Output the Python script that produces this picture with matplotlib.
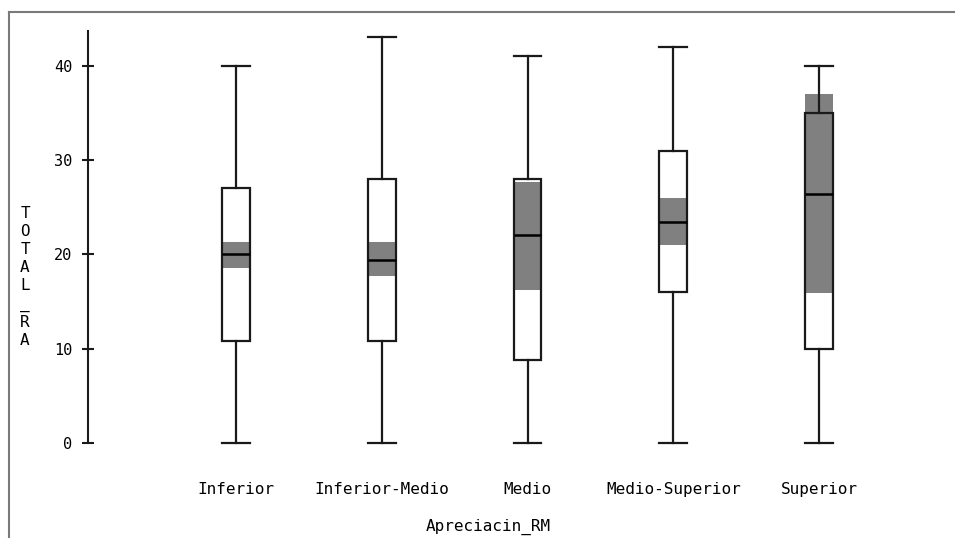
import matplotlib
matplotlib.use("Agg")
import matplotlib.pyplot as plt
from matplotlib.lines import Line2D

# ---- data ----
categories = ['Inferior', 'Inferior-Medio', 'Medio', 'Medio-Superior', 'Superior']
whisker_low = [0, 0, 0, 0, 0]
q1_values = [10.8, 10.8, 8.8, 16.0, 10.0]
medians = [20.0, 19.4, 22.0, 23.4, 26.4]
q3_values = [27.0, 28.0, 28.0, 31.0, 35.0]
whisker_high = [40, 43, 41, 42, 40]
ci_low = [18.6, 17.7, 16.2, 21.0, 15.9]
ci_high = [21.3, 21.3, 27.7, 26.0, 37.0]
y_ticks = [0, 10, 20, 30, 40]
x_title = 'Apreciacin_RM'
y_title = 'TOTAL_RA'

W, H = 955, 538
fig = plt.figure(figsize=(W / 100, H / 100), dpi=100)
fig.patch.set_facecolor('white')

# axes placed in pixel terms
ax_left, ax_right = 88, 955
ax_top, ax_bottom = 31, 443
ax = fig.add_axes([ax_left / W, (H - ax_bottom) / H,
                   (ax_right - ax_left) / W, (ax_bottom - ax_top) / H])
ax.set_facecolor('none')

px_per_unit = (443 - 65.7) / 40.0
ax.set_ylim(0, (ax_bottom - ax_top) / px_per_unit)
spacing = 145.75
x0 = -(236 - ax_left) / spacing
ax.set_xlim(x0, x0 + (ax_right - ax_left) / spacing)

positions = list(range(len(categories)))
width = 0.19
line_c = '#1a1a1a'
lw = 1.6

# confidence band for the median (grey)
ax.bar(positions, [h - l for h, l in zip(ci_high, ci_low)], bottom=ci_low,
       width=width, color='#808080', edgecolor='none', zorder=2)

stats = []
for i, c in enumerate(categories):
    stats.append(dict(label=c, whislo=whisker_low[i], q1=q1_values[i], med=medians[i],
                      q3=q3_values[i], whishi=whisker_high[i], fliers=[]))

art = ax.bxp(stats, positions=positions, widths=width, showfliers=False,
             patch_artist=True, capwidths=width,
             boxprops=dict(facecolor='none', edgecolor=line_c, linewidth=lw),
             whiskerprops=dict(color=line_c, linewidth=lw),
             capprops=dict(color=line_c, linewidth=lw),
             medianprops=dict(color='black', linewidth=lw + 0.2),
             manage_ticks=False)
for key in ('boxes', 'whiskers', 'caps', 'medians'):
    for a in art[key]:
        a.set_zorder(3)
        a.set_clip_on(False)

# axes styling
for s in ('top', 'right', 'bottom'):
    ax.spines[s].set_visible(False)
ax.spines['left'].set_linewidth(1.5)
ax.spines['left'].set_color(line_c)
ax.set_yticks(y_ticks)
ax.set_yticklabels([str(t) for t in y_ticks], fontfamily='DejaVu Sans Mono', fontsize=11)
ax.tick_params(axis='y', direction='inout', length=8.4, width=1.5, color=line_c, pad=7)
ax.set_xticks([])

# category labels below the plot, placed in pixel rows
label_tf = matplotlib.transforms.blended_transform_factory(ax.transData, fig.transFigure)
for p, c in zip(positions, categories):
    ax.text(p, (H - 489.5) / H, c, transform=label_tf, ha='center', va='center',
            fontfamily='DejaVu Sans Mono', fontsize=11.5, color='black')

fig.text(488 / W, (H - 527) / H, x_title, ha='center', va='center',
         fontfamily='DejaVu Sans Mono', fontsize=11.5, color='black')
fig.text(25 / W, (H - 277) / H, '\n'.join(y_title), ha='center', va='center',
         fontfamily='DejaVu Sans Mono', fontsize=11.5, linespacing=1.24, color='black')

# frame lines of the original window
fig.add_artist(Line2D([8.5 / W, 1.0], [(H - 12) / H, (H - 12) / H],
                      transform=fig.transFigure, color='#7a7a7a', linewidth=1.5))
fig.add_artist(Line2D([8.5 / W, 8.5 / W], [0, (H - 12) / H],
                      transform=fig.transFigure, color='#7a7a7a', linewidth=1.5))

fig.savefig('out.png', dpi=100, facecolor='white')
